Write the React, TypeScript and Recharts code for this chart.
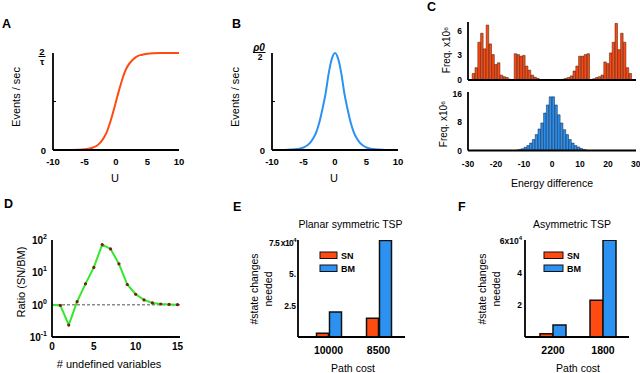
import React from "react";
import { LineChart, Line, BarChart, Bar, XAxis, YAxis, ReferenceLine } from "recharts";

const W = 640;
const H = 373;
const FONT = "'Liberation Sans', Arial, Helvetica, sans-serif";
const ORANGE = "#ff4a12";
const BLUE = "#2b92f2";
const GREEN = "#33e82a";

// A, B: firing rates against U (fraction of the top tick)
const uSteps = [-10, -9, -8, -7, -6, -5, -4, -3.5, -3, -2.5, -2, -1.5, -1, -0.5, 0, 0.5, 1, 1.5, 2, 2.5, 3, 3.5, 4, 5, 6, 7, 8, 9, 10];
const rateA = [0, 0, 0, 0.001, 0.003, 0.007, 0.018, 0.03, 0.047, 0.076, 0.12, 0.18, 0.27, 0.38, 0.5, 0.62, 0.73, 0.82, 0.88, 0.92, 0.95, 0.97, 0.98, 0.993, 0.997, 0.999, 1, 1, 1];
const rateB = [0, 0.001, 0.001, 0.004, 0.01, 0.026, 0.07, 0.115, 0.18, 0.28, 0.42, 0.58, 0.79, 0.94, 1, 0.94, 0.79, 0.58, 0.42, 0.28, 0.18, 0.115, 0.07, 0.026, 0.01, 0.004, 0.001, 0.001, 0];

// C: energy difference histograms (x10^6)
const binsTop = [-28, -27, -26, -25, -24, -23, -22, -21, -20, -19, -18, -17, -16, -15, -14, -13, -12, -11, -10, -9, -8, -7, -6, -5, -4, -3, -2, -1, 0, 1, 2, 3, 4, 5, 6, 7, 8, 9, 10, 11, 12, 13, 14, 15, 16, 17, 18, 19, 20, 21, 22, 23, 24, 25, 26, 27, 28];
const freqTop = [
  0.8, 1.5, 4.6, 5.7, 3.8, 6.7, 4.4, 3.1, 1.9, 2.1, 0.6, 0.4, 0.3, 0.1,
  0,
  3.2, 3.1, 2.9, 3.0, 1.7, 1.2, 0.6, 0.35, 0.2, 0.05,
  0.04, 0.04, 0.04, 0.04, 0.04, 0.04, 0.04,
  0.1, 0.2, 0.3, 0.5, 1.1, 1.7, 2.9, 2.9, 3.1, 3.2,
  0,
  0.15, 0.3, 0.4, 0.6, 2.2, 2.0, 3.3, 4.6, 6.9, 3.7, 5.7, 4.6, 1.5, 0.8,
];
const binsBottom = [-12.5, -11.5, -10.5, -9.5, -8.5, -7.5, -6.5, -5.5, -4.5, -3.5, -2.5, -1.5, -0.5, 0.5, 1.5, 2.5, 3.5, 4.5, 5.5, 6.5, 7.5, 8.5, 9.5, 10.5, 11.5, 12.5];
const freqBottom = [0.1, 0.3, 0.5, 0.9, 1.4, 2.1, 3.1, 4.5, 6.1, 7.8, 10.6, 12.9, 15.2, 15.2, 12.9, 10.1, 7.8, 5.9, 4.5, 3.1, 2.1, 1.4, 1.0, 0.6, 0.3, 0.1];
const energyTicks = [-30, -20, -10, 0, 10, 20, 30];

// D: ratio SN/BM
const undefinedVars = [0, 1, 2, 3, 4, 5, 6, 7, 8, 9, 10, 11, 12, 13, 14, 15];
const ratioSNBM = [1, 0.95, 0.235, 1.24, 4.4, 14.2, 72, 53, 18.3, 4.2, 2.1, 1.4, 1.13, 1.05, 1.02, 1.0];
const ratioTicks = [0.1, 1, 10, 100];
const ratioPowers = ["-1", "0", "1", "2"];

// E, F: state changes (x10^4)
const planarCost = ["10000", "8500"];
const planarSN = [0.3, 1.5];
const planarBM = [2.0, 7.7];
const asymCost = ["2200", "1800"];
const asymSN = [0.2, 2.3];
const asymBM = [0.75, 6.05];

const rateRows = uSteps.map((u, i) => ({ u, a: rateA[i], b: rateB[i] }));
const topRows = binsTop.map((e, i) => ({ e, f: freqTop[i] }));
const bottomRows = binsBottom.map((e, i) => ({ e, f: freqBottom[i] }));
const ratioRows = undefinedVars.map((n, i) => ({ n, r: ratioSNBM[i] }));
const planarRows = planarCost.map((c, i) => ({ c, sn: planarSN[i], bm: planarBM[i] }));
const asymRows = asymCost.map((c, i) => ({ c, sn: asymSN[i], bm: asymBM[i] }));

const YW = 30;
const XH = 30;
const frame = (x0: number, y0: number, x1: number, y1: number) => ({
  left: x0 - YW,
  top: y0,
  right: W - x1,
  bottom: H - y1 - XH,
});

const axisLine = { stroke: "#000", strokeWidth: 1.8 };
const tickFont = (size: number) => ({ fontSize: size, fontWeight: 700, fill: "#000", fontFamily: FONT });

function RateTickA(props: any) {
  const { x, y, payload } = props;
  const v = payload.value;
  if (v === 0) {
    return <text x={x} y={y} dy={3.5} textAnchor="end" style={tickFont(9.5)}>0</text>;
  }
  if (v === 0.5) {
    return <line x1={x + 7} x2={x + 10} y1={y} y2={y} stroke="#000" strokeWidth={1} />;
  }
  return (
    <g>
      <text x={x - 4} y={y + 1.5} textAnchor="middle" style={tickFont(9.5)}>2</text>
      <line x1={x - 7.5} x2={x - 0.5} y1={y + 3.5} y2={y + 3.5} stroke="#000" strokeWidth={1} />
      <text x={x - 4} y={y + 11.5} textAnchor="middle" style={tickFont(9.5)}>τ</text>
    </g>
  );
}

function RateTickB(props: any) {
  const { x, y, payload } = props;
  const v = payload.value;
  if (v === 0) {
    return <text x={x} y={y} dy={3.5} textAnchor="end" style={tickFont(9.5)}>0</text>;
  }
  if (v === 0.5) {
    return <line x1={x + 7} x2={x + 10} y1={y} y2={y} stroke="#000" strokeWidth={1} />;
  }
  return (
    <g>
      <text x={x - 6} y={y - 2.5} textAnchor="middle" style={{ ...tickFont(10), fontStyle: "italic" }}>ρ0</text>
      <line x1={x - 12} x2={x + 0.5} y1={y - 0.5} y2={y - 0.5} stroke="#000" strokeWidth={1} />
      <text x={x - 5} y={y + 7} textAnchor="middle" style={tickFont(8.5)}>2</text>
    </g>
  );
}

function PowTick(props: any) {
  const { x, y, payload } = props;
  const p = ratioPowers[ratioTicks.indexOf(payload.value)];
  return (
    <text x={x} y={y} dy={4} textAnchor="end" style={tickFont(10)}>
      10<tspan dy={-5} fontSize={7}>{p}</tspan>
    </text>
  );
}

function PlanarTick(props: any) {
  const { x, y, payload } = props;
  const v = payload.value;
  if (v === 7.5) {
    return (
      <text x={x} y={y} dy={3} textAnchor="end" style={{ ...tickFont(8.5), letterSpacing: -0.6 }}>
        7.5 x10<tspan dy={-4} fontSize={6}>4</tspan>
      </text>
    );
  }
  return (
    <text x={x} y={y} dy={3} textAnchor="end" style={tickFont(8.5)}>{v === 5 ? "5." : "2.5"}</text>
  );
}

function AsymTick(props: any) {
  const { x, y, payload } = props;
  const v = payload.value;
  if (v === 6) {
    return (
      <text x={x} y={y} dy={3} textAnchor="end" style={tickFont(8.5)}>
        6x10<tspan dy={-4} fontSize={6}>4</tspan>
      </text>
    );
  }
  return <text x={x} y={y} dy={3} textAnchor="end" style={tickFont(8.5)}>{String(v)}</text>;
}

function RatioDot(props: any) {
  const { cx, cy, index } = props;
  if (index === 0) return <g key="dot-0" />;
  return <circle key={`dot-${index}`} cx={cx} cy={cy} r={1.6} fill="#7a1a1a" />;
}

function T(props: any) {
  const { x, y, size = 11, weight = 400, anchor = "middle", rotate = false, children } = props;
  return (
    <text
      x={x}
      y={y}
      fontSize={size}
      fontWeight={weight}
      textAnchor={anchor}
      dominantBaseline={rotate ? "central" : undefined}
      transform={rotate ? `rotate(-90 ${x} ${y})` : undefined}
      fontFamily={FONT}
      fill="#000"
    >
      {children}
    </text>
  );
}

const layer: React.CSSProperties = { position: "absolute", left: 0, top: 0 };

export default function App() {
  return (
    <div style={{ position: "absolute", left: 0, top: 0, width: W, height: H, background: "#fff", overflow: "hidden", fontFamily: FONT }}>
      {/* A */}
      <div style={layer}>
        <LineChart width={W} height={H} data={rateRows} margin={frame(53, 53, 179, 150)}>
          <XAxis type="number" dataKey="u" domain={[-10, 10]} ticks={[-10, -5, 0, 5, 10]} height={XH}
            axisLine={axisLine} tickLine={false} tickSize={0} tickMargin={8} tick={tickFont(9.5)} />
          <YAxis type="number" domain={[0, 1]} ticks={[0, 0.5, 1]} width={YW}
            axisLine={axisLine} tickLine={false} tickSize={0} tickMargin={7} tick={<RateTickA />} />
          <Line type="monotone" dataKey="a" stroke={ORANGE} strokeWidth={2} dot={false} isAnimationActive={false} />
        </LineChart>
      </div>

      {/* B */}
      <div style={layer}>
        <LineChart width={W} height={H} data={rateRows} margin={frame(272, 53, 398, 150)}>
          <XAxis type="number" dataKey="u" domain={[-10, 10]} ticks={[-10, -5, 0, 5, 10]} height={XH}
            axisLine={axisLine} tickLine={false} tickSize={0} tickMargin={8} tick={tickFont(9.5)} />
          <YAxis type="number" domain={[0, 1]} ticks={[0, 0.5, 1]} width={YW}
            axisLine={axisLine} tickLine={false} tickSize={0} tickMargin={7} tick={<RateTickB />} />
          <Line type="monotone" dataKey="b" stroke={BLUE} strokeWidth={2} dot={false} isAnimationActive={false} />
        </LineChart>
      </div>

      {/* C top */}
      <div style={layer}>
        <BarChart width={W} height={H} data={topRows} margin={frame(468, 22, 636, 80)} barCategoryGap={0} barGap={0}>
          <XAxis type="number" dataKey="e" domain={[-30, 30]} ticks={energyTicks} height={XH}
            axisLine={axisLine} tickLine={false} tick={false} />
          <YAxis type="number" domain={[0, 7.07]} ticks={[0, 3, 6]} width={YW} allowDataOverflow
            axisLine={axisLine} tickLine={false} tickSize={0} tickMargin={6} tick={tickFont(8.5)} />
          <Bar dataKey="f" fill={ORANGE} stroke="#3a1606" strokeWidth={0.5} barSize={2.8} isAnimationActive={false} />
        </BarChart>
      </div>

      {/* C bottom */}
      <div style={layer}>
        <BarChart width={W} height={H} data={bottomRows} margin={frame(468, 92, 636, 150.5)} barCategoryGap={0} barGap={0}>
          <XAxis type="number" dataKey="e" domain={[-30, 30]} ticks={energyTicks} height={XH}
            axisLine={axisLine} tickLine={false} tickSize={0} tickMargin={10.5} tick={tickFont(8.5)} />
          <YAxis type="number" domain={[0, 16.57]} ticks={[0, 8, 16]} width={YW} allowDataOverflow
            axisLine={axisLine} tickLine={false} tickSize={0} tickMargin={6} tick={tickFont(8.5)} />
          <Bar dataKey="f" fill={BLUE} stroke="#0b1f3a" strokeWidth={0.5} barSize={2.8} isAnimationActive={false} />
        </BarChart>
      </div>

      {/* D */}
      <div style={layer}>
        <LineChart width={W} height={H} data={ratioRows} margin={frame(52, 240, 180, 337)}>
          <XAxis type="number" dataKey="n" domain={[0, 15.3]} ticks={[0, 5, 10, 15]} height={XH}
            axisLine={axisLine} tickLine={false} tickSize={0} tickMargin={6} tick={tickFont(10)} />
          <YAxis type="number" scale="log" domain={[0.1, 100]} ticks={ratioTicks} width={YW} allowDataOverflow
            axisLine={axisLine} tickLine={false} tickSize={0} tickMargin={5} tick={<PowTick />} />
          <ReferenceLine y={1} stroke="#8a8a8a" strokeWidth={1.5} strokeDasharray="3 2" />
          <Line type="linear" dataKey="r" stroke={GREEN} strokeWidth={2} dot={<RatioDot />} isAnimationActive={false} />
        </LineChart>
      </div>

      {/* E */}
      <div style={layer}>
        <BarChart width={W} height={H} data={planarRows} margin={frame(298, 240, 405, 337)} barGap={1}>
          <XAxis dataKey="c" type="category" padding={{ left: 5.5, right: 1.5 }} height={XH}
            axisLine={axisLine} tickLine={false} tickSize={0} tickMargin={10} tick={tickFont(10.5)} />
          <YAxis type="number" domain={[0, 7.74]} ticks={[2.5, 5, 7.5]} width={YW} allowDataOverflow
            axisLine={axisLine} tickLine={false} tickSize={0} tickMargin={2} tick={<PlanarTick />} />
          <Bar dataKey="sn" fill={ORANGE} stroke="#111" strokeWidth={1.5} barSize={12} isAnimationActive={false} />
          <Bar dataKey="bm" fill={BLUE} stroke="#111" strokeWidth={1.5} barSize={12} isAnimationActive={false} />
        </BarChart>
      </div>

      {/* F */}
      <div style={layer}>
        <BarChart width={W} height={H} data={asymRows} margin={frame(525, 240, 629, 337)} barGap={0}>
          <XAxis dataKey="c" type="category" padding={{ left: 3, right: 1 }} height={XH}
            axisLine={axisLine} tickLine={false} tickSize={0} tickMargin={10} tick={tickFont(10.5)} />
          <YAxis type="number" domain={[0, 6.06]} ticks={[2, 4, 6]} width={YW} allowDataOverflow
            axisLine={axisLine} tickLine={false} tickSize={0} tickMargin={3} tick={<AsymTick />} />
          <Bar dataKey="sn" fill={ORANGE} stroke="#111" strokeWidth={1.5} barSize={13} isAnimationActive={false} />
          <Bar dataKey="bm" fill={BLUE} stroke="#111" strokeWidth={1.5} barSize={13} isAnimationActive={false} />
        </BarChart>
      </div>

      {/* labels, panel letters, legends */}
      <svg width={W} height={H} style={{ ...layer, pointerEvents: "none" }}>
        <T x={2} y={28} size={12.5} weight={700} anchor="start">A</T>
        <T x={232} y={28} size={12.5} weight={700} anchor="start">B</T>
        <T x={427} y={11} size={12.5} weight={700} anchor="start">C</T>
        <T x={4} y={208} size={12.5} weight={700} anchor="start">D</T>
        <T x={233} y={211} size={12.5} weight={700} anchor="start">E</T>
        <T x={458} y={211} size={12.5} weight={700} anchor="start">F</T>

        <T x={15.5} y={97} rotate>Events / sec</T>
        <T x={115} y={182}>U</T>
        <T x={234.5} y={97} rotate>Events / sec</T>
        <T x={334} y={182}>U</T>

        <T x={446} y={50} size={10} rotate>Freq. x10⁶</T>
        <T x={443} y={124} size={10} rotate>Freq. x10⁶</T>
        <T x={552} y={187} size={10.5}>Energy difference</T>

        <T x={21} y={282} rotate>Ratio (SN/BM)</T>
        <T x={109} y={368}># undefined variables</T>

        <T x={350.5} y={228} size={10.5}>Planar symmetric TSP</T>
        <T x={253.5} y={289} size={10.5} rotate>#state changes</T>
        <T x={268} y={289} size={10.5} rotate>needed</T>
        <T x={353} y={372} size={10.5}>Path cost</T>
        <rect x={320} y={252} width={17} height={6.5} fill={ORANGE} stroke="#111" strokeWidth={1} />
        <rect x={320} y={265} width={17} height={6.5} fill={BLUE} stroke="#111" strokeWidth={1} />
        <T x={341} y={259} size={9} weight={700} anchor="start">SN</T>
        <T x={341} y={272} size={9} weight={700} anchor="start">BM</T>

        <T x={572} y={228} size={10.5}>Asymmetric TSP</T>
        <T x={481.5} y={289} size={10.5} rotate>#state changes</T>
        <T x={496} y={289} size={10.5} rotate>needed</T>
        <T x={578} y={372} size={10.5}>Path cost</T>
        <rect x={544} y={252} width={19} height={6.5} fill={ORANGE} stroke="#111" strokeWidth={1} />
        <rect x={544} y={265} width={19} height={6.5} fill={BLUE} stroke="#111" strokeWidth={1} />
        <T x={567} y={259} size={9} weight={700} anchor="start">SN</T>
        <T x={567} y={272} size={9} weight={700} anchor="start">BM</T>
      </svg>
    </div>
  );
}
